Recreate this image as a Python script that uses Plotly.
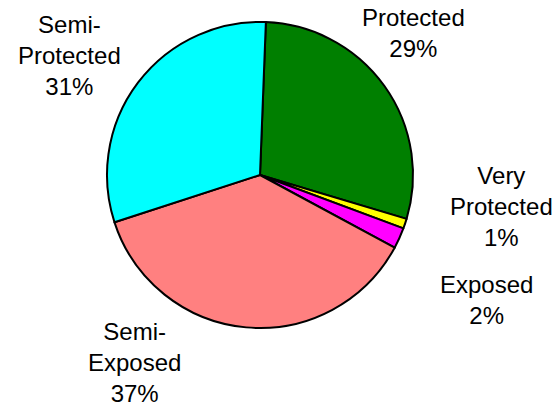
import plotly.graph_objects as go

categories = ["Protected", "Very Protected", "Exposed", "Semi-Exposed", "Semi-Protected"]
display_labels = ["Protected", "Very<br>Protected", "Exposed", "Semi-<br>Exposed", "Semi-<br>Protected"]
values = [29.0, 1.05, 2.2, 37.1, 30.6]
colors = ["#007F00", "#FFFF00", "#FF00FF", "#FF8080", "#00FFFF"]

W, H = 558, 408
cx, cy, r = 260, 175, 153

fig = go.Figure(go.Pie(
    labels=categories,
    values=values,
    sort=False,
    direction="clockwise",
    rotation=2.2,
    marker=dict(colors=colors, line=dict(color="black", width=2)),
    textinfo="none",
    hoverinfo="label+percent",
    showlegend=False,
    domain=dict(x=[(cx - r) / W, (cx + r) / W], y=[(H - cy - r) / H, (H - cy + r) / H]),
))

total = sum(values)
# label block centres (pixels, top-left origin) - layout only
label_pos = [(413, 33), (501, 206), (486, 300), (134, 362), (69, 56)]
for name, v, (x, y) in zip(display_labels, values, label_pos):
    fig.add_annotation(
        x=x / W, y=1 - y / H, xref="paper", yref="paper",
        text=f"{name}<br>{round(v / total * 100):.0f}%",
        showarrow=False, xanchor="center", yanchor="middle", align="center",
        font=dict(family="Liberation Sans, Arial, sans-serif", size=24, color="black"),
    )

fig.update_layout(
    width=W, height=H,
    margin=dict(l=0, r=0, t=0, b=0),
    paper_bgcolor="white", plot_bgcolor="white",
)
fig.write_html(
    "out.html",
    config={"displayModeBar": False},
    post_script="document.body.style.margin='0';document.body.style.overflow='hidden';",
)
